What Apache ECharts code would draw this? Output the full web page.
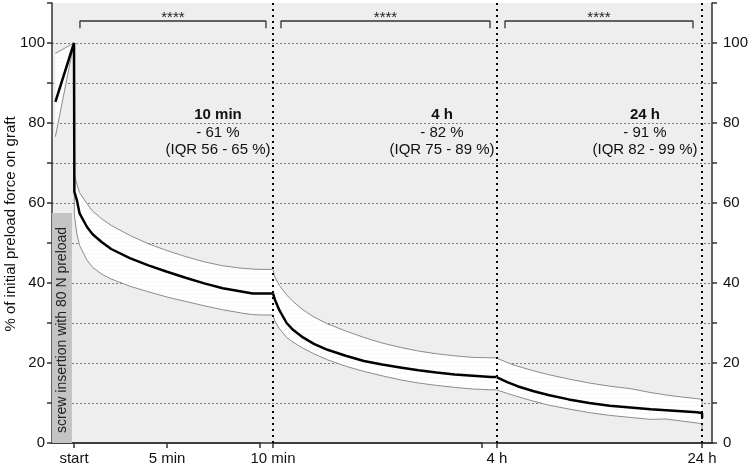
<!DOCTYPE html>
<html>
<head>
<meta charset="utf-8">
<script src="https://cdn.jsdelivr.net/npm/echarts@6/dist/echarts.min.js"></script>
<style>
  html, body { margin: 0; background: #fff; }
  #chart { width: 750px; height: 468px; }
</style>
</head>
<body>
<div id="chart"></div>
<script>
// segment 1: minutes after screw insertion (start = 0)
const SEG1_T    = [-1.0, 0, 0.02, 0.15, 0.3, 0.7, 1, 1.5, 2, 3, 4, 5, 6, 7, 8, 9, 9.6, 10, 10.68]
const SEG1_MED  = [85.3, 100, 62.8, 60.8, 57.4, 54.0, 52.2, 50.2, 48.5, 46.2, 44.4, 42.8, 41.3, 39.9, 38.7, 37.9, 37.4, 37.4, 37.4]
const SEG1_Q3   = [97.4, 100, 67.0, 64.8, 62.6, 59.8, 58.0, 56.0, 54.4, 51.9, 49.8, 48.1, 46.6, 45.3, 44.3, 43.7, 43.5, 43.4, 43.4]
const SEG1_Q1   = [76.6, 100, 57.0, 52.4, 49.4, 45.7, 43.9, 42.2, 41.0, 39.2, 37.8, 36.5, 35.4, 34.3, 33.3, 32.5, 32.1, 32.0, 32.0]

// segment 2: minutes, 10 min .. 4 h
const SEG2_T    = [10, 12, 17, 25, 32, 43, 55, 70, 90, 110, 130, 150, 170, 190, 210, 230, 250, 256]
const SEG2_MED  = [37.4, 35.9, 33.2, 30.0, 28.3, 26.4, 24.8, 23.3, 21.8, 20.5, 19.6, 18.9, 18.2, 17.6, 17.1, 16.8, 16.5, 16.5]
const SEG2_Q3   = [43.3, 41.5, 39.4, 37.0, 35.4, 33.3, 31.5, 29.8, 28.0, 26.4, 25.0, 23.9, 23.0, 22.3, 21.8, 21.4, 21.3, 21.3]
const SEG2_Q1   = [32.0, 30.5, 28.6, 26.4, 25.2, 23.7, 22.3, 20.8, 19.2, 17.9, 16.8, 15.8, 15.0, 14.4, 13.9, 13.5, 13.3, 13.3]

// segment 3: hours, 4 h .. 24 h
const SEG3_T    = [4, 5, 6, 7.5, 9, 11, 13, 15, 17, 19, 20.5, 22, 23.5, 24, 24.02]
const SEG3_MED  = [16.4, 15.2, 14.2, 13.0, 12.0, 10.9, 10.0, 9.3, 8.9, 8.45, 8.2, 7.95, 7.7, 7.5, 6.3]
const SEG3_Q3   = [21.2, 20.1, 19.2, 18.1, 17.1, 16.0, 15.0, 14.2, 13.6, 12.6, 12.0, 11.5, 11.1, 10.9, 9.5]
const SEG3_Q1   = [13.25, 12.4, 11.6, 10.5, 9.5, 8.5, 7.6, 6.9, 6.4, 5.9, 6.0, 5.5, 5.0, 4.8, 3.0]

const SEG1_TICKS = [0, 5, 10]
const SEG1_LABELS = { 0: 'start', 5: '5 min' }
const SEG2_TICKS = [10, 240]
const SEG2_LABELS = { 10: '10 min' }
const SEG3_TICKS = [4, 24]
const SEG3_LABELS = { 4: '4 h', 24: '24 h' }

const INSERTION_END = -0.11
const INSERTION_TOP = 57.5

const BRACKETS = [[0.32, 10.32], [18.8, 248.8], [4.78, 23.12]]
const SIG = '****'
const TITLES = ['10 min', '4 h', '24 h']
const DROPS = ['- 61 %', '- 82 %', '- 91 %']
const IQRS = ['(IQR 56 - 65 %)', '(IQR 75 - 89 %)', '(IQR 82 - 99 %)']
const Y_TITLE = '% of initial preload force on graft'

const FONT = '"Liberation Sans", Arial, Helvetica, sans-serif'
const AXIS = '#333333'
const TOP = 3, BOTTOM = 25

const chart = echarts.init(document.getElementById('chart'))

// faint dotted fill used inside the IQR band
const dots = document.createElement('canvas')
dots.width = 4; dots.height = 4
const dctx = dots.getContext('2d')
dctx.fillStyle = '#ffffff'; dctx.fillRect(0, 0, 4, 4)
dctx.fillStyle = 'rgba(0,0,0,0.07)'; dctx.fillRect(1, 1, 1, 1)

function hiddenY(grid) {
  return { type: 'value', gridIndex: grid, min: 0, max: 110, show: false }
}
function timeAxis(grid, min, max, ticks, labels, show) {
  return {
    type: 'value', gridIndex: grid, min, max, show,
    splitLine: { show: false },
    axisLine: { show: true, lineStyle: { color: AXIS, width: 1.5 } },
    axisTick: { show: true, length: 5, customValues: ticks, lineStyle: { color: AXIS, width: 1.5 } },
    axisLabel: {
      customValues: Object.keys(labels).map(Number),
      formatter: v => labels[v] || '',
      color: '#111', fontSize: 15, fontFamily: FONT, margin: 8,
    },
  }
}

// IQR band as one polygon: upper edge forward, lower edge back
function bandSeries(gi, t, q3, q1) {
  return {
    type: 'custom', xAxisIndex: gi, yAxisIndex: gi + 1, silent: true, z: 1,
    data: t.map((x, i) => [x, q1[i], q3[i]]),
    encode: { x: 0, y: [1, 2] },
    renderItem(params, api) {
      if (params.dataIndex !== 0) return null
      const up = t.map((x, i) => api.coord([x, q3[i]]))
      const lo = t.map((x, i) => api.coord([x, q1[i]])).reverse()
      return { type: 'polygon', shape: { points: up.concat(lo) },
        style: { fill: { image: dots, repeat: 'repeat' } } }
    },
  }
}

function segSeries(gi, t, med, q3, q1, extra) {
  const pts = arr => t.map((x, i) => [x, arr[i]])
  const ax = { xAxisIndex: gi, yAxisIndex: gi + 1, symbol: 'none', silent: true, z: 3 }
  return [
    bandSeries(gi, t, q3, q1),
    { ...ax, type: 'line', data: pts(q3), lineStyle: { color: '#8c8c8c', width: 1 } },
    { ...ax, type: 'line', data: pts(q1), lineStyle: { color: '#8c8c8c', width: 1 } },
    { ...ax, type: 'line', data: pts(med), lineStyle: { color: '#000', width: 2.5 }, clip: false, z: 4, ...extra },
  ]
}

const dotted = { color: '#000', width: 2, type: [2, 4] }
function vLines(values) {
  return { silent: true, symbol: ['none', 'none'], label: { show: false },
    lineStyle: dotted, data: values.map(v => ({ xAxis: v })) }
}

function bracket(gi, span) {
  const mid = (span[0] + span[1]) / 2
  return {
    type: 'line', xAxisIndex: gi, yAxisIndex: gi + 1, symbol: 'none', silent: true, clip: false,
    lineStyle: { color: '#333', width: 1.3 },
    data: [[span[0], 103.7], [span[0], 105.5], [span[1], 105.5], [span[1], 103.7]],
    markPoint: {
      symbol: 'circle', symbolSize: 0,
      label: { show: true, position: 'inside', formatter: SIG, color: '#222', fontSize: 15, fontFamily: FONT },
      data: [{ coord: [mid, 106.3] }],
    },
  }
}

const A_MIN = -22 / 18.6
const g = (left, width, extra) => ({ left, width, top: TOP, bottom: BOTTOM, outerBoundsMode: 'none', ...extra })
const grids = [
  g(52, 660, { show: true, backgroundColor: '#eeeeee', borderWidth: 0 }),
  g(52, 221), g(273, 224), g(497, 215),
  g(52, 208), g(273, 209),
]

const yFrame = pos => ({
  type: 'value', gridIndex: 0, position: pos, min: 0, max: 110, interval: 10,
  axisLine: { show: true, lineStyle: { color: AXIS, width: 1.5 } },
  axisTick: { show: true, length: 5, lineStyle: { color: AXIS, width: 1.5 } },
  axisLabel: { formatter: v => (v % 20 === 0 && v <= 100 ? v : ''), color: '#111', fontSize: 15,
    fontFamily: FONT, margin: pos === 'left' ? 7 : 11 },
  splitLine: { show: pos === 'left', showMinLine: false, showMaxLine: false,
    lineStyle: { color: '#7a7a7a', width: 1, type: [2, 2] } },
})

const annot = []
const ANNOT_X = [218, 442, 645]
ANNOT_X.forEach((x, i) => {
  const txt = (y, text, bold) => ({ type: 'text', x, y, z: 50, style: { text, textAlign: 'center',
    textVerticalAlign: 'middle', font: (bold ? 'bold ' : '') + '15px ' + FONT, fill: '#111' } })
  annot.push(txt(115, TITLES[i], true), txt(133, DROPS[i]), txt(150, IQRS[i]))
})
annot.push({ type: 'text', x: 62, y: 330, rotation: Math.PI / 2, z: 50,
  style: { text: 'screw insertion with 80 N preload', textAlign: 'center', textVerticalAlign: 'middle',
    font: '14px ' + FONT, fill: '#222' } })
annot.push({ type: 'text', x: 11, y: 224, rotation: Math.PI / 2, z: 50,
  style: { text: Y_TITLE, textAlign: 'center', textVerticalAlign: 'middle', font: '15px ' + FONT, fill: '#111' } })

chart.setOption({
  animation: false,
  grid: grids,
  xAxis: [
    { type: 'value', gridIndex: 0, position: 'top', min: 0, max: 1, axisLine: { show: true, lineStyle: { color: AXIS, width: 1.5 } },
      axisTick: { show: false }, axisLabel: { show: false }, splitLine: { show: false } },
    timeAxis(1, A_MIN, (273 - 74) / 18.6, [], {}, false),
    timeAxis(2, 10, 10 + 224 / 0.9087, [], {}, false),
    timeAxis(3, 4, 4 + 215 / 10.25, SEG3_TICKS, SEG3_LABELS, true),
    timeAxis(4, A_MIN, 10, SEG1_TICKS, SEG1_LABELS, true),
    timeAxis(5, 10, 240, SEG2_TICKS, SEG2_LABELS, true),
  ],
  yAxis: [
    yFrame('left'),
    yFrame('right'),
    hiddenY(1), hiddenY(2), hiddenY(3), hiddenY(4), hiddenY(5),
  ],
  series: [
    ...segSeries(1, SEG1_T, SEG1_MED, SEG1_Q3, SEG1_Q1, {
      markArea: { silent: true, itemStyle: { color: '#c4c4c4' },
        data: [[{ coord: [A_MIN, 0] }, { coord: [INSERTION_END, INSERTION_TOP] }]] },
    }),
    ...segSeries(2, SEG2_T, SEG2_MED, SEG2_Q3, SEG2_Q1, { markLine: vLines([10]) }),
    ...segSeries(3, SEG3_T, SEG3_MED, SEG3_Q3, SEG3_Q1, { markLine: vLines([4, 24]) }),
    bracket(1, BRACKETS[0]),
    bracket(2, BRACKETS[1]),
    bracket(3, BRACKETS[2]),
  ],
  graphic: annot,
})
</script>
</body>
</html>
